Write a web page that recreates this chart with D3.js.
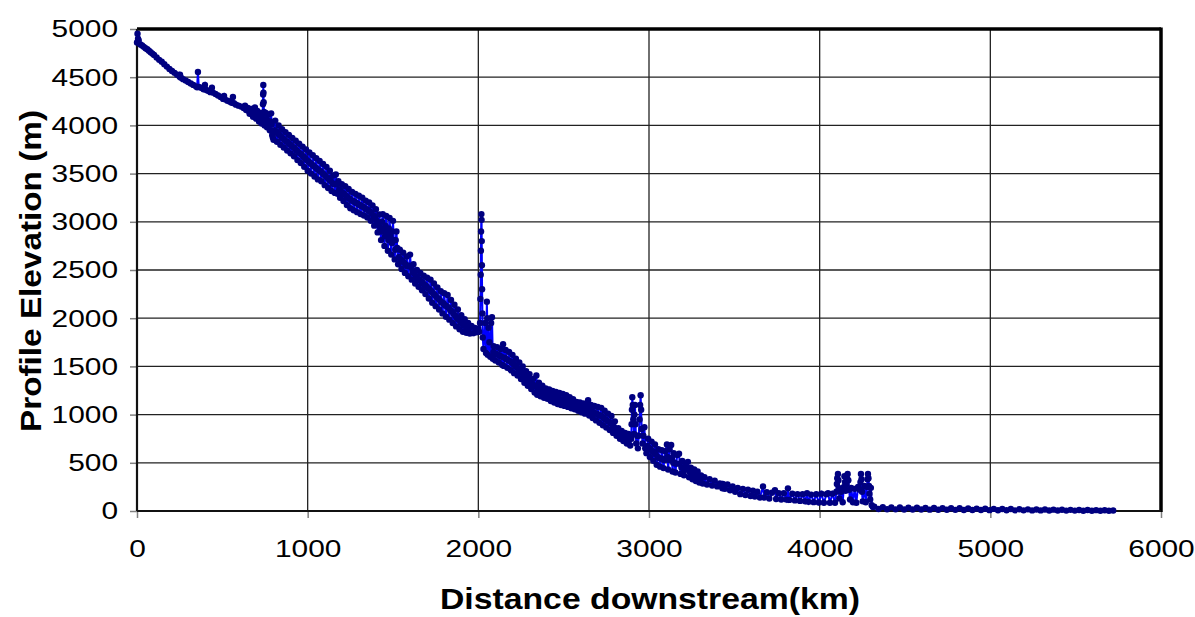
<!DOCTYPE html>
<html><head><meta charset="utf-8">
<script src="https://cdn.jsdelivr.net/npm/d3@7/dist/d3.min.js"></script>
<style>body{margin:0;background:#fff}svg{display:block}text{font-family:Arial,"Liberation Sans",sans-serif}</style>
</head><body><svg id="c" width="1195" height="617"></svg>
<script>
const xTicks = [0,1000,2000,3000,4000,5000,6000];
const yTicks = [0,500,1000,1500,2000,2500,3000,3500,4000,4500,5000];
const xTitle = "Distance downstream(km)";
const yTitle = "Profile Elevation (m)";

// [distance km, elevation m]
const headwaters = [[0,4860],[3,4950],[6,4900],[10,4880],[20,4840],[30,4830],[40,4815],[50,4800],[60,4790],[70,4775],[80,4760],[90,4745],[100,4730],[115,4705],[130,4680],[145,4660],[160,4635],[175,4610],[190,4585],[205,4565],[220,4545],[235,4525],[250,4505],[252,4525],[258,4495],[270,4480],[285,4465],[300,4450],[315,4435],[330,4420],[345,4405],[352,4395],[357,4555],[362,4400],[375,4390],[390,4375],[398,4420],[404,4370],[415,4360],[430,4345],[439,4390],[445,4340],[460,4325],[475,4310],[490,4295],[505,4275],[510,4305],[515,4270],[530,4255],[545,4245],[555,4235],[562,4295],[568,4230],[580,4215],[595,4205],[610,4195],[625,4180],[633,4205],[640,4160],[645,4170],[650,4180],[655,4150],[660,4120],[665,4145],[670,4170],[675,4130],[680,4090],[686,4140],[691,4185],[695,4120],[698,4070],[702,4110],[705,4150],[710,4095],[715,4040],[719,4085],[722,4130],[726,4075],[730,4020],[733,4070],[736,4120],[738,4220],[739,4320],[740,4420],[741,4340],[742,4240],[744,4140],[748,4000],[752,4065],[755,4130],[758,4055],[762,3980],[766,4045],[770,4110],[774,4030],[778,3950],[782,4040],[786,4125],[789,4010],[792,3900],[796,3875]];

const upperMiddle = [[800,3850],[805,3950],[810,4050],[815,3940],[820,3830],[825,3915],[830,4000],[835,3900],[840,3800],[845,3880],[850,3960],[855,3865],[860,3770],[865,3850],[870,3930],[875,3835],[880,3740],[885,3820],[890,3900],[895,3805],[900,3710],[905,3790],[910,3870],[915,3775],[920,3680],[925,3760],[930,3840],[935,3740],[940,3640],[945,3725],[950,3810],[955,3710],[960,3610],[965,3695],[970,3780],[975,3675],[980,3570],[985,3660],[990,3750],[995,3640],[1000,3530],[1005,3625],[1010,3720],[1015,3610],[1020,3500],[1025,3595],[1030,3690],[1035,3580],[1040,3470],[1045,3565],[1050,3660],[1055,3550],[1060,3440],[1065,3535],[1070,3630],[1075,3525],[1080,3420],[1085,3510],[1090,3600],[1095,3490],[1100,3380],[1105,3475],[1110,3570],[1115,3460],[1120,3350],[1125,3440],[1130,3530],[1135,3425],[1140,3320],[1145,3400],[1150,3480],[1155,3390],[1160,3300],[1165,3490],[1170,3390],[1175,3290],[1180,3420],[1185,3335],[1190,3250],[1195,3320],[1200,3390],[1205,3300],[1210,3215],[1215,3290],[1220,3370],[1225,3270],[1230,3175],[1235,3255],[1240,3340],[1245,3240],[1250,3140],[1255,3225],[1260,3310],[1265,3215],[1270,3120],[1275,3205],[1280,3290],[1285,3195],[1290,3100],[1295,3185],[1300,3270],[1305,3175],[1310,3080],[1315,3165],[1320,3250],[1325,3155],[1330,3065],[1335,3140],[1340,3220],[1345,3130],[1350,3045],[1355,3120],[1360,3200],[1365,3105],[1370,3010],[1375,3090],[1380,3170],[1385,3065],[1390,2960],[1395,3045],[1400,3130],[1405,3010],[1410,2890],[1415,2980],[1420,3075],[1425,2940],[1430,2810],[1433,2900],[1436,3000],[1440,3080],[1445,2915],[1450,2750],[1453,2850],[1456,2960],[1460,3060],[1465,2880],[1470,2700],[1473,2810],[1476,2930],[1480,3040],[1485,2850],[1490,2660],[1493,2780],[1496,2900],[1500,3010],[1505,2810],[1510,2610],[1513,2710],[1516,2810],[1520,2900],[1525,2730],[1530,2560],[1535,2635],[1540,2710],[1545,2610],[1550,2510],[1555,2595],[1560,2680],[1565,2575],[1570,2470],[1575,2555],[1580,2640],[1585,2540],[1590,2435],[1595,2545],[1600,2660],[1605,2530],[1610,2400],[1615,2480],[1620,2560],[1625,2460],[1630,2360],[1635,2430],[1640,2500],[1645,2410],[1650,2325],[1655,2400],[1660,2470],[1665,2380],[1670,2290],[1675,2365],[1680,2440],[1685,2345],[1690,2250],[1695,2335],[1700,2420],[1705,2310],[1710,2205],[1715,2300],[1720,2400],[1725,2280],[1730,2160],[1735,2260],[1740,2360],[1745,2240],[1750,2125],[1755,2220],[1760,2320],[1765,2205],[1770,2090],[1775,2185],[1780,2280],[1785,2165],[1790,2050],[1795,2155],[1800,2260],[1805,2135],[1810,2015],[1815,2125],[1820,2240],[1825,2110],[1830,1985],[1835,2085],[1840,2190],[1845,2070],[1850,1950],[1855,2045],[1860,2140],[1865,2025],[1870,1915],[1875,2000],[1880,2090],[1885,1985],[1890,1885],[1895,1955],[1900,2030],[1905,1945],[1910,1860],[1915,1925],[1920,1990],[1925,1920],[1930,1848],[1935,1900],[1940,1950],[1945,1895],[1950,1840],[1960,1920],[1970,1845],[1980,1900],[1990,1855],[2000,1890],[2005,1860],[2010,1950],[2012,2200],[2014,2450],[2015,2700],[2016,2900],[2018,3080],[2019,3020],[2020,2800],[2021,2550],[2022,2300],[2024,2050],[2026,1800]];

const lowerMiddle = [[2030,1680],[2040,1950],[2045,1640],[2050,2170],[2052,2000],[2055,1620],[2060,1900],[2065,1750],[2070,1600],[2075,1950],[2080,2010],[2085,1580],[2088,1650],[2090,1710],[2095,1630],[2100,1560],[2105,1630],[2110,1700],[2115,1620],[2120,1540],[2125,1610],[2130,1680],[2135,1600],[2140,1515],[2145,1730],[2150,1505],[2155,1590],[2160,1670],[2165,1575],[2170,1485],[2175,1565],[2180,1650],[2185,1555],[2190,1460],[2195,1540],[2200,1620],[2205,1525],[2210,1430],[2215,1505],[2220,1580],[2225,1490],[2230,1405],[2235,1470],[2240,1540],[2245,1455],[2250,1370],[2255,1435],[2260,1500],[2265,1415],[2270,1330],[2275,1390],[2280,1450],[2285,1375],[2290,1300],[2295,1360],[2300,1420],[2305,1340],[2310,1265],[2315,1320],[2320,1370],[2325,1300],[2330,1230],[2335,1300],[2340,1405],[2343,1300],[2345,1205],[2350,1270],[2355,1330],[2360,1260],[2365,1190],[2370,1245],[2375,1300],[2380,1235],[2385,1175],[2390,1220],[2395,1270],[2400,1215],[2405,1165],[2410,1210],[2415,1260],[2420,1200],[2425,1140],[2430,1190],[2435,1245],[2440,1185],[2445,1125],[2450,1180],[2455,1235],[2460,1170],[2465,1110],[2470,1165],[2475,1225],[2480,1160],[2485,1100],[2490,1155],[2495,1215],[2500,1150],[2505,1090],[2510,1145],[2515,1200],[2520,1140],[2525,1080],[2530,1130],[2535,1180],[2540,1120],[2545,1065],[2550,1110],[2555,1160],[2560,1105],[2565,1055],[2570,1090],[2575,1130],[2580,1085],[2585,1040],[2590,1080],[2595,1125],[2600,1075],[2605,1025],[2610,1070],[2615,1115],[2620,1060],[2625,1010],[2630,1055],[2635,1100],[2643,1150],[2647,1070],[2650,990],[2655,1045],[2660,1100],[2665,1030],[2670,965],[2675,1025],[2680,1090],[2685,1015],[2690,940],[2695,1010],[2700,1080],[2705,995],[2710,915],[2715,990],[2720,1070],[2725,980],[2730,890],[2735,965],[2740,1040],[2745,950],[2750,865],[2755,935],[2760,1010],[2765,925],[2770,840],[2775,910],[2780,985],[2785,900],[2790,810],[2795,870],[2800,930],[2805,855],[2810,780],[2815,820],[2820,860],[2825,805],[2830,750],[2835,790],[2840,830],[2845,775],[2850,725],[2855,765],[2860,810],[2865,755],[2870,700],[2875,750],[2880,800],[2885,740],[2890,680],[2896,750],[2898,900],[2900,1050],[2902,1180],[2905,1100],[2908,950],[2912,800],[2915,1000],[2918,1100],[2921,900],[2925,700],[2930,780],[2935,650],[2940,780],[2945,950],[2948,1100],[2951,1200],[2954,1050],[2957,850],[2962,700],[2967,780],[2973,870],[2978,650],[2985,600],[2990,675],[2995,750],[3000,655],[3005,560],[3010,640],[3015,720],[3020,620],[3025,520],[3030,605],[3035,690],[3040,585],[3045,480],[3050,560],[3055,640],[3060,550],[3065,460],[3070,545],[3075,630],[3080,540],[3085,445],[3090,530],[3095,620],[3105,690],[3108,560],[3112,430],[3116,530],[3120,640],[3130,685],[3134,550],[3138,410],[3142,500],[3145,600],[3150,500],[3155,400],[3160,490],[3165,580],[3176,595],[3180,490],[3185,385],[3190,450],[3195,520],[3200,445],[3205,370],[3210,425],[3215,480],[3228,510],[3232,430],[3235,350],[3240,400],[3245,450],[3250,390],[3255,330],[3260,380],[3265,430],[3270,370],[3275,310],[3280,360],[3285,410],[3290,350],[3295,295],[3300,330],[3305,370],[3315,285],[3325,350],[3340,275],[3355,330],[3370,265],[3385,315],[3400,255]];

const lowerCourse = [[3415,285],[3430,235],[3433,280],[3445,230],[3460,275],[3475,215],[3490,255],[3505,200],[3520,240],[3535,175],[3550,230],[3565,165],[3580,220],[3595,155],[3609,210],[3620,150],[3635,200],[3650,140],[3668,255],[3675,140],[3690,195],[3705,130],[3720,190],[3738,215],[3745,125],[3760,185],[3775,120],[3790,185],[3805,118],[3814,235],[3822,115],[3840,180],[3855,110],[3870,175],[3885,105],[3900,175],[3915,100],[3926,185],[3935,95],[3950,170],[3965,92],[3980,175],[3995,88],[4010,180],[4025,86],[4040,175],[4049,185],[4060,85],[4075,180],[4090,85],[4098,200],[4101,280],[4103,340],[4107,385],[4110,320],[4112,240],[4115,130],[4125,200],[4135,90],[4142,250],[4145,360],[4148,300],[4152,210],[4157,280],[4160,340],[4164,385],[4168,320],[4172,220],[4178,120],[4185,240],[4195,90],[4205,230],[4215,85],[4225,250],[4236,220],[4239,300],[4242,385],[4245,330],[4248,200],[4252,100],[4262,260],[4270,90],[4278,250],[4280,330],[4283,385],[4286,340],[4289,260],[4292,180],[4296,120],[4300,240],[4305,60],[4312,40]];

const delta = [[4320,45],[4345,20],[4370,40],[4395,18],[4420,38],[4445,17],[4470,36],[4495,16],[4520,35],[4545,15],[4570,34],[4595,15],[4620,32],[4645,14],[4670,31],[4695,13],[4720,30],[4745,13],[4770,29],[4795,12],[4820,28],[4845,11],[4870,27],[4895,10],[4920,25],[4945,10],[4970,24],[4995,9],[5020,22],[5045,8],[5070,21],[5095,8],[5120,20],[5145,7],[5170,18],[5195,7],[5220,17],[5245,6],[5270,16],[5295,6],[5320,15],[5345,5],[5370,14],[5395,5],[5420,13],[5445,4],[5470,12],[5495,4],[5520,11],[5545,3],[5570,10],[5595,3],[5620,9],[5645,2],[5670,8],[5695,2],[5720,5]];

const profile = [].concat(headwaters, upperMiddle, lowerMiddle, lowerCourse, delta);

const svg = d3.select("#c");
const L = 137, R = 1161, T = 29, B = 511;
const x = d3.scaleLinear().domain([0,6000]).range([L,R]);
const y = d3.scaleLinear().domain([0,5000]).range([B,T]);

// grid
svg.append("g").selectAll("line").data(yTicks).join("line")
  .attr("x1",L).attr("x2",R).attr("y1",d=>y(d)).attr("y2",d=>y(d))
  .attr("stroke","#222").attr("stroke-width",1.3);
svg.append("g").selectAll("line").data(xTicks).join("line")
  .attr("x1",d=>x(d)).attr("x2",d=>x(d)).attr("y1",T).attr("y2",B)
  .attr("stroke","#222").attr("stroke-width",1.3);

// axes
const xa = svg.append("g").attr("transform",`translate(0,${B})`)
  .call(d3.axisBottom(x).tickValues(xTicks).tickFormat(d3.format("d")).tickSize(7).tickPadding(22));
const ya = svg.append("g").attr("transform",`translate(${L},0)`)
  .call(d3.axisLeft(y).tickValues(yTicks).tickFormat(d3.format("d")).tickSize(7).tickPadding(12));
const sx = 1.22;
[xa,ya].forEach(g=>{
  g.select(".domain").remove();
  g.selectAll(".tick line").attr("stroke","#808080").attr("stroke-width",1.5);
  g.selectAll("text").attr("font-size",24.5).attr("fill","#000")
   .attr("font-family","Arial, 'Liberation Sans', sans-serif")
   .attr("transform", function(){ const tx = +d3.select(this).attr("x") || 0;
      return `translate(${tx},0) scale(${sx},1) translate(${-tx},0)`; });
});

// plot frame
svg.append("line").attr("x1",L).attr("x2",R).attr("y1",T).attr("y2",T).attr("stroke","#000").attr("stroke-width",3.5);
svg.append("line").attr("x1",R).attr("x2",R).attr("y1",T-1.5).attr("y2",B+1).attr("stroke","#000").attr("stroke-width",3.5);
svg.append("line").attr("x1",L).attr("x2",L).attr("y1",T).attr("y2",B).attr("stroke","#111").attr("stroke-width",2.2);
svg.append("line").attr("x1",L).attr("x2",R).attr("y1",B).attr("y2",B).attr("stroke","#111").attr("stroke-width",2.2);

// series
svg.append("path").datum(profile)
  .attr("d", d3.line().x(d=>x(d[0])).y(d=>y(d[1])))
  .attr("fill","none").attr("stroke","#0000FF").attr("stroke-width",2);
svg.append("g").selectAll("circle").data(profile).join("circle")
  .attr("cx",d=>x(d[0])).attr("cy",d=>y(d[1])).attr("r",3.2)
  .attr("fill","#000080");

// titles
svg.append("text").attr("x",650).attr("y",609).attr("text-anchor","middle")
  .attr("font-size",30).attr("font-weight","bold")
  .attr("textLength",420).attr("lengthAdjust","spacingAndGlyphs").text(xTitle);
svg.append("text").attr("transform",`translate(41,271) rotate(-90)`).attr("text-anchor","middle")
  .attr("font-size",30).attr("font-weight","bold")
  .attr("textLength",322).attr("lengthAdjust","spacingAndGlyphs").text(yTitle);
</script></body></html>
